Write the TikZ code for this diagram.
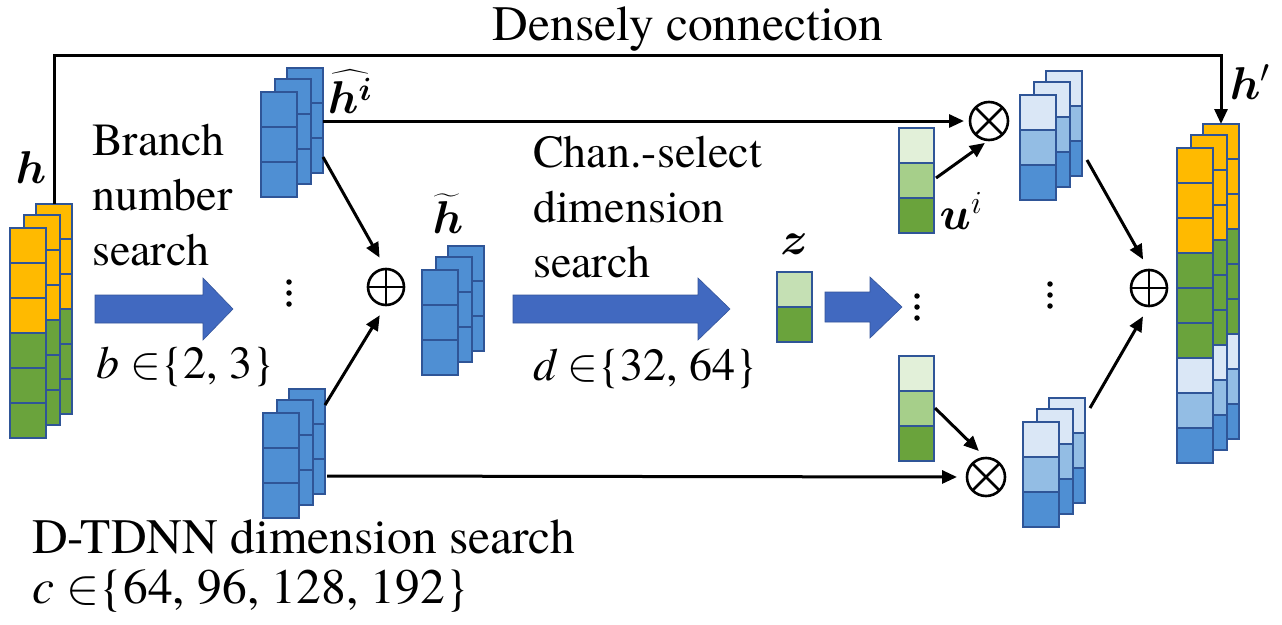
\documentclass[tikz,border=0pt]{standalone}
\usepackage{fix-cm}
\usepackage{amsmath,bm}
\usepackage{fontspec}
\setmainfont{texgyretermes}[Extension=.otf,UprightFont=*-regular,ItalicFont=*-italic,BoldFont=*-bold,BoldItalicFont=*-bolditalic]
\usetikzlibrary{arrows.meta,calc}
\definecolor{cOr}{HTML}{FFBA00}
\definecolor{cGr}{HTML}{6AA33C}
\definecolor{cGrM}{HTML}{A6CF8A}
\definecolor{cGrL}{HTML}{E2F0D9}
\definecolor{cGrZ}{HTML}{C5E0B4}
\definecolor{cBl}{HTML}{4F8FD3}
\definecolor{cBlM}{HTML}{93BDE4}
\definecolor{cBlL}{HTML}{DAE7F6}
\definecolor{cEdge}{HTML}{2F5597}
\definecolor{cArrow}{HTML}{4169C0}
\newcommand\mystack[3]{% front top-left x, y, colour list
  \foreach \dx/\dy in {26/-24,14/-13,0/0}{
    \foreach \c [count=\k from 0] in {#3}{
      \draw[cell,fill=\c] ({#1+\dx},{#2+\dy+\k*35}) rectangle ++(36,35);
    }
  }
}
\newcommand\myvec[3]{%
  \foreach \c [count=\k from 0] in {#3}{
    \draw[cell,fill=\c] ({#1},{#2+\k*35}) rectangle ++(35,35);
  }
}
\begin{document}
\begin{tikzpicture}[x=1pt,y=-1pt,
  cell/.style={draw=cEdge,line width=1.8pt},
  arr/.style={line width=3pt,-{Triangle[length=15pt,width=13pt]}},
  bigarrow/.style={fill=cArrow,draw=cArrow!80!black,line width=0.6pt},
  circ/.style={circle,draw,line width=2.6pt,minimum size=36pt,inner sep=0pt,outer sep=0pt},
  crossl/.style={line width=2.6pt},
  lbl/.style={font=\fontsize{46}{55}\selectfont,inner sep=0pt,anchor=base west},
  biglbl/.style={font=\fontsize{49.5}{58}\selectfont,inner sep=0pt,anchor=base west},
  mlbl/.style={font=\fontsize{46}{55}\selectfont,inner sep=0pt},
  dot/.style={circle,fill,inner sep=0pt,minimum size=5.5pt}]
\useasboundingbox (0,0) rectangle (1282,624);
\fill[white] (0,0) rectangle (1282,624);

% stacks
\mystack{10}{228}{cOr,cOr,cOr,cGr,cGr,cGr}
\mystack{261}{92}{cBl,cBl,cBl}
\mystack{263}{413}{cBl,cBl,cBl}
\mystack{422}{270}{cBl,cBl,cBl}
\mystack{1020}{95}{cBlL,cBlM,cBl}
\mystack{1023}{422}{cBlL,cBlM,cBl}
\mystack{1177}{148}{cOr,cOr,cOr,cGr,cGr,cGr,cBlL,cBlM,cBl}
\myvec{899}{128}{cGrL,cGrM,cGr}
\myvec{899}{356}{cGrL,cGrM,cGr}
\myvec{777}{272}{cGrZ,cGr}

% connector anchor points on the stacks
\coordinate (hTop) at (54,204);
\coordinate (fTop) at (1221,124);
\coordinate (hatR) at (323,121);
\coordinate (hatR2) at (323,157);
\coordinate (botR) at (325,405);
\coordinate (botR2) at (327,476);
\coordinate (uA) at (936,178);
\coordinate (uB) at (935,408);
\coordinate (trR) at (1087,160);
\coordinate (brR) at (1090,408);

% operators
\node[circ] (opA) at (386,287) {};
\draw[crossl] (opA.north) -- (opA.south) (opA.west) -- (opA.east);
\node[circ,minimum size=38pt] (otA) at (989,121) {};
\draw[crossl] (otA.north east) -- (otA.south west) (otA.north west) -- (otA.south east);
\node[circ,minimum size=38pt] (otB) at (986,477) {};
\draw[crossl] (otB.north east) -- (otB.south west) (otB.north west) -- (otB.south east);
\node[circ] (opB) at (1149,288) {};
\draw[crossl] (opB.north) -- (opB.south) (opB.west) -- (opB.east);

% connectors
\draw[arr] (hTop) -- ++(0,-149) -| (fTop);
\draw[arr,shorten >=6pt] (hatR) -- (otA.west);
\draw[arr,shorten >=13pt] (hatR2) -- (opA.north);
\draw[arr,shorten >=12pt] (botR) -- (opA.south);
\draw[arr,shorten >=10pt] (botR2) -- (otB.west);
\draw[arr,shorten >=5pt] (uA) -- (otA.south);
\draw[arr,shorten >=10pt] (uB) -- (otB.north);
\draw[arr,shorten >=12pt] (trR) -- (opB.north);
\draw[arr,shorten >=12pt] (brR) -- (opB.south);

% big arrows
\draw[bigarrow] (95,295) -- (203,295) -- (203,278) -- (233,309) -- (203,340) -- (203,323) -- (95,323) -- cycle;
\draw[bigarrow] (513,295) -- (698,295) -- (698,278) -- (730,309) -- (698,340) -- (698,323) -- (513,323) -- cycle;
\draw[bigarrow] (825,292) -- (870,292) -- (870,277) -- (902,307) -- (870,338) -- (870,322) -- (825,322) -- cycle;

% vertical dots
\foreach \yy [count=\n] in {282,293,304}{\node[dot] (da\n) at (289,\yy) {};}
\foreach \yy [count=\n] in {296,307,318}{\node[dot] (db\n) at (917,\yy) {};}
\foreach \yy [count=\n] in {284,295,306}{\node[dot] (dc\n) at (1050,\yy) {};}

% texts
\node[biglbl,anchor=base] (tDense) at (688,40) {Densely connection};
\node[lbl] (tB1) at (92,155) {Branch};
\node[lbl] (tB2) at (92,210) {number};
\node[lbl] (tB3) at (92,265) {search};
\node[lbl] (tB4) at (96,378) {$\mathit{b}$ $\in$\{2, 3\}};
\node[lbl] (tC1) at (533,167) {Chan.-select};
\node[lbl] (tC2) at (533,222) {dimension};
\node[lbl] (tC3) at (533,277) {search};
\node[lbl] (tC4) at (533,380) {$\mathit{d}$ $\in$\{32, 64\}};
\node[biglbl] (tD1) at (32,553) {D-TDNN dimension search};
\node[biglbl] (tD2) at (32,603) {$\mathit{c}$ $\in$\{64, 96, 128, 192\}};

% math labels
\node[mlbl] (lh) at (31,168) {$\bm{h}$};
\node[mlbl] (lhat) at (350,92) {$\bm{\widehat{h^{i}}}$};
\node[mlbl] (ltil) at (448,214) {$\bm{\widetilde{h}}$};
\node[mlbl] (lz) at (794,244) {$\bm{z}$};
\node[mlbl] (lu) at (961,211) {$\bm{u}^{i}$};
\node[mlbl] (lhp) at (1250,82) {$\bm{h}'$};
\end{tikzpicture}
\end{document}
